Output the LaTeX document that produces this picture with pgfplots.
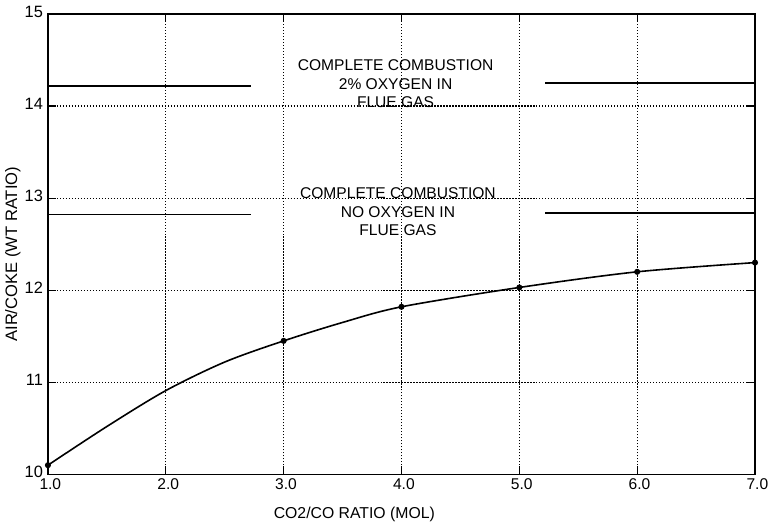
\documentclass[border=0pt]{standalone}
\usepackage{fontspec}
\setmainfont{Liberation Sans}
\usepackage{pgfplots}
\pgfplotsset{compat=1.18}
\begin{document}
\begin{tikzpicture}
\path[use as bounding box] (-24pt,-26pt) rectangle (362.5pt,237.5pt);
\begin{axis}[
  at={(0,0)}, anchor=south west,
  scale only axis, width=354pt, height=230.5pt,
  xmin=1, xmax=7, ymin=10, ymax=15,
  xtick={1,2,3,4,5,6,7},
  xticklabels={1.0,2.0,3.0,4.0,5.0,6.0,7.0},
  ytick={10,11,12,13,14,15},
  tick align=inside,
  major tick length=4pt,
  tick style={black, line width=0.6pt},
  grid=major,
  major grid style={black, line width=0.6pt, dash pattern=on 0.6pt off 0.9pt},
  axis line style={black, line width=0.8pt},
  xticklabel style={font=\fontsize{7.8}{9}\selectfont, yshift=1.5pt, xshift=1.2pt},
  yticklabel style={font=\fontsize{8.2}{9}\selectfont, xshift=1pt, yshift=1.2pt},
  /pgf/number format/assume math mode=true,
  clip=false,
  xlabel={CO2/CO RATIO (MOL)},
  ylabel={AIR/COKE (WT RATIO)},
  xlabel style={font=\fontsize{7.9}{9}\selectfont, at={(axis cs:3.6,9.565)}, anchor=center},
  ylabel style={font=\fontsize{8.3}{9}\selectfont, at={(axis cs:0.703,12.39)}, anchor=center},
]
\addplot[black, line width=0.8pt, smooth, tension=0.5, no marks] coordinates {
  (1,10.1) (1.5,10.52) (2,10.91) (2.5,11.22) (3,11.45) (3.5,11.65)
  (4,11.82) (5,12.03) (6,12.2) (7,12.3)};
\addplot[only marks, mark=*, mark size=1.3pt, black] coordinates {
  (1,10.1) (3,11.45) (4,11.82) (5,12.03) (6,12.2) (7,12.3)};
\addplot[black, line width=0.7pt, no marks] coordinates {(1,14.22) (2.72,14.22)};
\addplot[black, line width=0.7pt, no marks] coordinates {(5.22,14.25) (7,14.25)};
\addplot[black, line width=0.7pt, no marks] coordinates {(1,12.82) (2.72,12.82)};
\addplot[black, line width=0.7pt, no marks] coordinates {(5.22,12.84) (7,12.84)};
\node[align=center, font=\fontsize{7.8}{9.2}\selectfont] at (axis cs:3.95,14.24)
  {COMPLETE COMBUSTION\\2\% OXYGEN IN\\FLUE GAS};
\node[align=center, font=\fontsize{7.8}{9.2}\selectfont] at (axis cs:3.97,12.85)
  {COMPLETE COMBUSTION\\NO OXYGEN IN\\FLUE GAS};
\end{axis}
\end{tikzpicture}
\end{document}
